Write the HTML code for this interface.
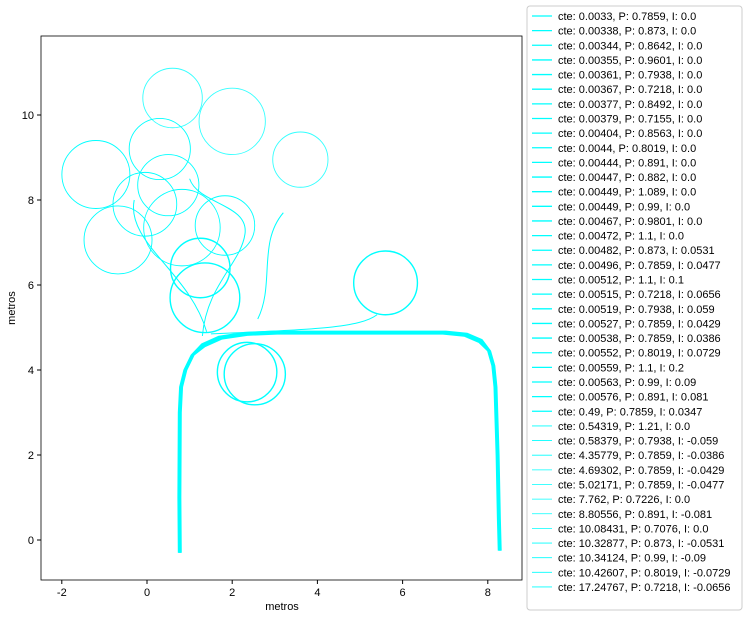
<!DOCTYPE html>
<html><head><meta charset="utf-8"><style>
body{margin:0;background:#fff;width:747px;height:618px;overflow:hidden;font-family:"Liberation Sans",sans-serif}
svg text{font-family:"Liberation Sans",sans-serif;font-size:11px;fill:#000}
</style></head><body>
<svg id="c" width="747" height="618"></svg>
<script>
const xTicks=[-2,0,2,4,6,8];
const yTicks=[0,2,4,6,8,10];
const legendLabels=["cte: 0.0033, P: 0.7859, I: 0.0","cte: 0.00338, P: 0.873, I: 0.0","cte: 0.00344, P: 0.8642, I: 0.0","cte: 0.00355, P: 0.9601, I: 0.0","cte: 0.00361, P: 0.7938, I: 0.0","cte: 0.00367, P: 0.7218, I: 0.0","cte: 0.00377, P: 0.8492, I: 0.0","cte: 0.00379, P: 0.7155, I: 0.0","cte: 0.00404, P: 0.8563, I: 0.0","cte: 0.0044, P: 0.8019, I: 0.0","cte: 0.00444, P: 0.891, I: 0.0","cte: 0.00447, P: 0.882, I: 0.0","cte: 0.00449, P: 1.089, I: 0.0","cte: 0.00449, P: 0.99, I: 0.0","cte: 0.00467, P: 0.9801, I: 0.0","cte: 0.00472, P: 1.1, I: 0.0","cte: 0.00482, P: 0.873, I: 0.0531","cte: 0.00496, P: 0.7859, I: 0.0477","cte: 0.00512, P: 1.1, I: 0.1","cte: 0.00515, P: 0.7218, I: 0.0656","cte: 0.00519, P: 0.7938, I: 0.059","cte: 0.00527, P: 0.7859, I: 0.0429","cte: 0.00538, P: 0.7859, I: 0.0386","cte: 0.00552, P: 0.8019, I: 0.0729","cte: 0.00559, P: 1.1, I: 0.2","cte: 0.00563, P: 0.99, I: 0.09","cte: 0.00576, P: 0.891, I: 0.081","cte: 0.49, P: 0.7859, I: 0.0347","cte: 0.54319, P: 1.21, I: 0.0","cte: 0.58379, P: 0.7938, I: -0.059","cte: 4.35779, P: 0.7859, I: -0.0386","cte: 4.69302, P: 0.7859, I: -0.0429","cte: 5.02171, P: 0.7859, I: -0.0477","cte: 7.762, P: 0.7226, I: 0.0","cte: 8.80556, P: 0.891, I: -0.081","cte: 10.08431, P: 0.7076, I: 0.0","cte: 10.32877, P: 0.873, I: -0.0531","cte: 10.34124, P: 0.99, I: -0.09","cte: 10.42607, P: 0.8019, I: -0.0729","cte: 17.24767, P: 0.7218, I: -0.0656"];
// main track waypoints (metres) and per-run offsets
const trackX=[0.75,0.74,0.75,0.78,0.88,1.05,1.3,1.7,2.3,3,5,7.0,7.5,7.85,8.05,8.15,8.2,8.25,8.28,8.3];
const trackY=[-0.3,1,3,3.6,4.0,4.35,4.6,4.78,4.87,4.9,4.9,4.9,4.85,4.7,4.45,4.1,3.6,2,0.5,-0.25];
const runOffsets=[0,0.015,0.03,-0.015,0.045,0.025,-0.005,0.055,0.01,0.035];
// loops: center x, center y, radius (metres)
const loopCX=[5.6,2.53,2.35,1.36,1.25,-1.2,-0.68,-0.05,0.5,0.3,0.82,1.83,2.0,3.6,0.6];
const loopCY=[6.05,3.9,3.95,5.7,6.4,8.6,7.06,7.9,8.35,9.2,7.35,7.4,9.85,8.95,10.4];
const loopR=[0.75,0.72,0.7,0.82,0.7,0.8,0.8,0.75,0.72,0.72,0.9,0.7,0.78,0.65,0.7];
const L=41,R=522,T=36,B=580;
const sx=v=>147+v*42.6, sy=v=>540-v*42.5;
const svg=document.getElementById('c');const NS='http://www.w3.org/2000/svg';
function mk(t,a,p){const e=document.createElementNS(NS,t);for(const k in a)e.setAttribute(k,a[k]);(p||svg).appendChild(e);return e;}
const clip=mk('clipPath',{id:'cp'});mk('rect',{x:L,y:T,width:R-L,height:B-T},clip);
const g=mk('g',{'clip-path':'url(#cp)'});


runOffsets.forEach((o,i)=>{
 let d='';trackX.forEach((x,j)=>{d+=(j?'L':'M')+sx(x+o*(x<4?1:-1))+' '+sy(trackY[j]-(trackY[j]>4.5?o:0));});
 const p=mk('path',{d:d,fill:'none',stroke:'#00ffff','stroke-width':1,'stroke-linejoin':'round'},g);
 
 
});
const conn=mk('path',{d:`M${sx(1.3)} ${sy(4.8)} C${sx(1.4)} ${sy(6)} ${sx(2.2)} ${sy(6.5)} ${sx(2.3)} ${sy(7.2)} S${sx(1.2)} ${sy(7.9)} ${sx(1.0)} ${sy(8.5)} M${sx(1.4)} ${sy(4.9)} C${sx(1.0)} ${sy(6.3)} ${sx(-0.5)} ${sy(7)} ${sx(-0.3)} ${sy(8)} M${sx(2.6)} ${sy(5.2)} C${sx(3)} ${sy(6)} ${sx(2.6)} ${sy(7)} ${sx(3.2)} ${sy(7.7)} M${sx(1.5)} ${sy(4.85)} C${sx(4)} ${sy(4.95)} ${sx(5)} ${sy(5)} ${sx(5.4)} ${sy(5.3)}`,fill:'none',stroke:'#00ffff','stroke-width':1},g);


loopCX.forEach((cx,i)=>{
 const c=mk('circle',{cx:sx(cx),cy:sy(loopCY[i]),r:loopR[i]*42.5,fill:'none',stroke:'#00ffff','stroke-width':i<5?1.4:0.9,opacity:i<12?1:0.8},g);
 
 
});
const fr=mk('rect',{x:L,y:T,width:R-L,height:B-T,fill:'none',stroke:'#000','stroke-width':0.8});


xTicks.forEach(v=>{mk('line',{x1:sx(v),x2:sx(v),y1:B,y2:B+4,stroke:'#000'});
 const t=mk('text',{x:sx(v),y:B+16,'text-anchor':'middle'});t.textContent=v;
 
 });
yTicks.forEach(v=>{mk('line',{x1:L-4,x2:L,y1:sy(v),y2:sy(v),stroke:'#000'});
 const t=mk('text',{x:L-7,y:sy(v)+4,'text-anchor':'end'});t.textContent=v;
 
 });
const xt=mk('text',{x:282,y:610,'text-anchor':'middle'});xt.textContent='metros';


const yt=mk('text',{x:15,y:308,'text-anchor':'middle',transform:'rotate(-90 15 308)'});yt.textContent='metros';


const lg=mk('rect',{x:527,y:6,width:215,height:604,rx:3,fill:'#fff',stroke:'#ccc'});


legendLabels.forEach((s,i)=>{const y=16+i*14.64;
 mk('line',{x1:532,x2:552,y1:y,y2:y,stroke:'#00ffff','stroke-width':i<28?1.3:0.8});
 const t=mk('text',{x:558,y:y+4});t.textContent=s;
 
 });
</script>
</body></html>
